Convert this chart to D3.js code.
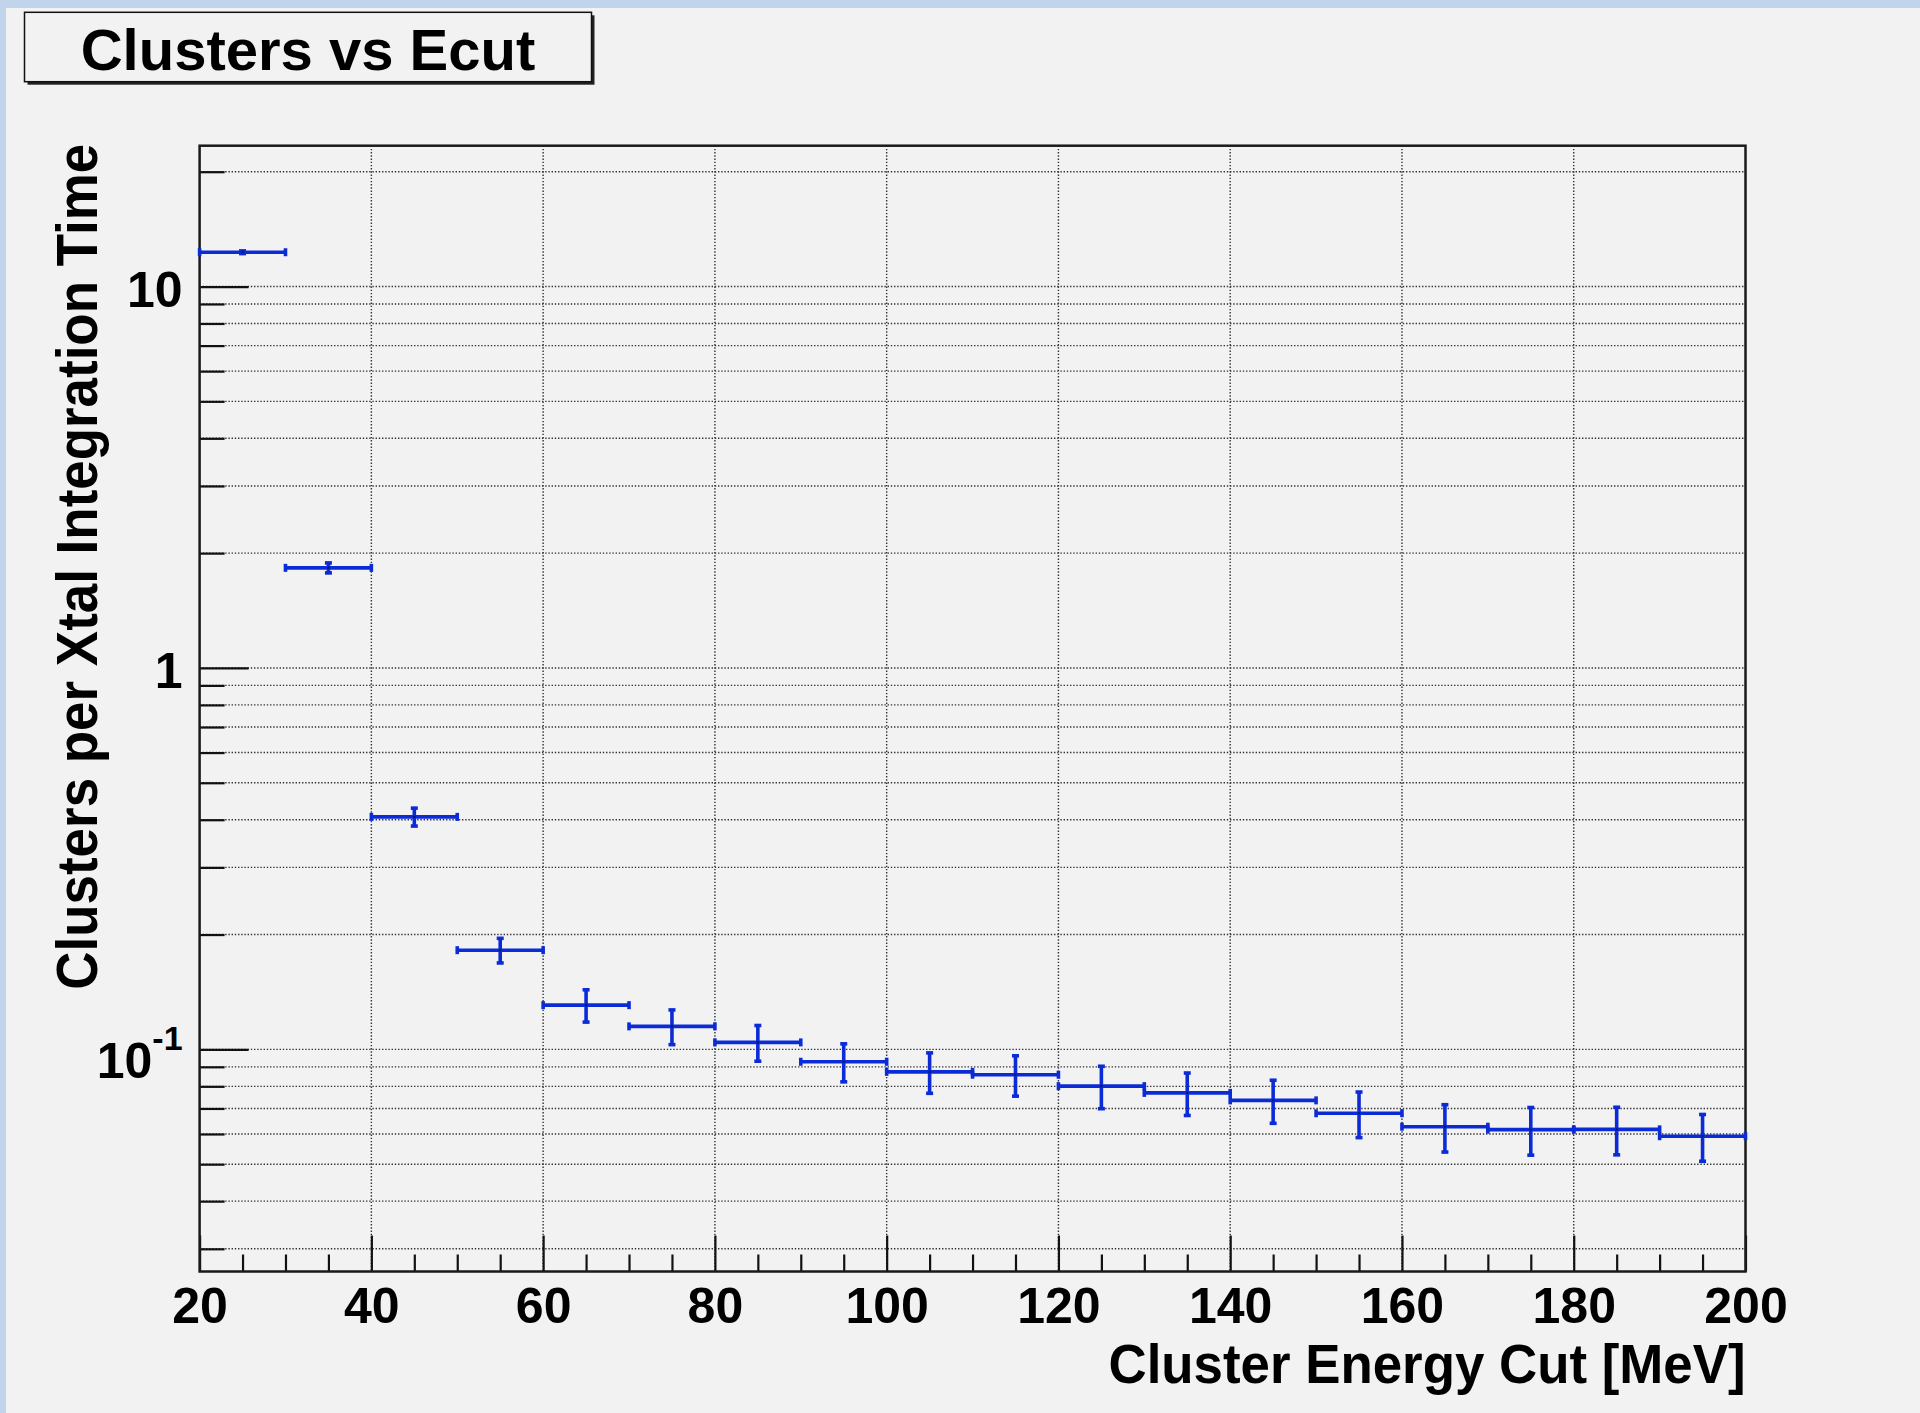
<!DOCTYPE html>
<html>
<head>
<meta charset="utf-8">
<script src="https://cdn.jsdelivr.net/npm/d3@7"></script>
<style>
  body { margin: 0; background: #f2f2f2; overflow: hidden; }
  svg { display: block; }
  text { font-family: "Liberation Sans", Arial, Helvetica, sans-serif; font-weight: bold; fill: #000; }
</style>
</head>
<body>
<div id="container"></div>
<script>
// Histogram bins: centre of each 10 MeV energy-cut bin
const binCenters = [25, 35, 45, 55, 65, 75, 85, 95, 105, 115, 125, 135, 145, 155, 165, 175, 185, 195];
const binHalfWidth = 5;

// Clusters per Xtal integration time, and their errors
const clusterRates = [12.3, 1.83, 0.407, 0.182, 0.1306, 0.1149, 0.1043, 0.0928, 0.0873, 0.0858,
  0.0801, 0.0769, 0.0735, 0.068, 0.0627, 0.0616, 0.0617, 0.0592];
const clusterErrors = [0.1, 0.055, 0.022, 0.0135, 0.0127, 0.012, 0.0112, 0.0106, 0.0106, 0.0104,
  0.0102, 0.0098, 0.0095, 0.0093, 0.0089, 0.0088, 0.0088, 0.0083];

// Axis ticks
const xMajorTicks = [20, 40, 60, 80, 100, 120, 140, 160, 180, 200];
const xMinorTicks = [25, 30, 35, 45, 50, 55, 65, 70, 75, 85, 90, 95, 105, 110, 115, 125, 130, 135,
  145, 150, 155, 165, 170, 175, 185, 190, 195];
const yTicks = [0.03, 0.04, 0.05, 0.06, 0.07, 0.08, 0.09,
  0.1, 0.2, 0.3, 0.4, 0.5, 0.6, 0.7, 0.8, 0.9,
  1, 2, 3, 4, 5, 6, 7, 8, 9, 10, 20];
const yLabelled = [0.1, 1, 10];

const titleText = "Clusters vs Ecut";
const xTitle = "Cluster Energy Cut [MeV]";
const yTitle = "Clusters per Xtal Integration Time";

// canvas + frame
const width = 1920;
const height = 1413;
const frameLeft = 199.6;
const frameRight = 1745.5;
const frameTop = 145.7;
const frameBottom = 1271.5;

const blue = "#0b2bd6";
const gridColor = "#333";

const svg = d3.create("svg").attr("width", width).attr("height", height);

// page background and the bit of blue desktop that leaks in at the edges
svg.append("rect").attr("width", width).attr("height", height).attr("fill", "#f2f2f2");
svg.append("rect").attr("x", 0).attr("y", 0).attr("width", width).attr("height", 8).attr("fill", "#c2d4ec");
svg.append("rect").attr("x", 0).attr("y", 0).attr("width", 6).attr("height", height).attr("fill", "#c2d4ec");

const x = d3.scaleLinear().domain([20, 200]).range([frameLeft, frameRight]);
const y = d3.scaleLog().domain([0.02616, 23.4]).range([frameBottom, frameTop]);

// grid
const grid = svg.append("g")
  .attr("stroke", gridColor)
  .attr("stroke-width", 1.4)
  .attr("stroke-dasharray", "1.4,1.8");

grid.selectAll("line.h")
  .data(yTicks)
  .join("line")
  .attr("class", "h")
  .attr("x1", frameLeft)
  .attr("x2", frameRight)
  .attr("y1", d => y(d))
  .attr("y2", d => y(d));

grid.selectAll("line.v")
  .data(xMajorTicks.slice(1, -1))
  .join("line")
  .attr("class", "v")
  .attr("x1", d => x(d))
  .attr("x2", d => x(d))
  .attr("y1", frameTop)
  .attr("y2", frameBottom);

// y axis (ticks point into the frame)
const yAxis = svg.append("g")
  .attr("transform", `translate(${frameLeft},0)`)
  .call(d3.axisLeft(y).tickValues(yTicks).tickSize(-25).tickPadding(17).tickFormat(""));
yAxis.select(".domain").remove();
yAxis.selectAll(".tick line")
  .attr("stroke", "#111")
  .attr("stroke-width", 2.2)
  .attr("x2", d => (yLabelled.includes(d) ? 49 : 25));

yAxis.selectAll(".tick")
  .filter(d => yLabelled.includes(d))
  .select("text")
  .attr("font-size", 50)
  .attr("fill", "#000")
  .each(function (d) {
    const t = d3.select(this);
    if (d === 0.1) {
      t.attr("dy", 28);
      t.append("tspan").text("10");
      t.append("tspan").attr("font-size", 34).attr("dy", -28).text("-1");
    } else {
      t.attr("dy", 20).text(d3.format("d")(d));
    }
  });

// x axis (ticks point up into the frame)
const xAxis = svg.append("g")
  .attr("transform", `translate(0,${frameBottom})`)
  .call(d3.axisBottom(x).tickValues(xMajorTicks.concat(xMinorTicks)).tickSize(-17).tickPadding(16)
    .tickFormat(d => (xMajorTicks.includes(d) ? d : "")));
xAxis.select(".domain").remove();
xAxis.selectAll(".tick line")
  .attr("stroke", "#111")
  .attr("stroke-width", 2.2)
  .attr("y2", d => (xMajorTicks.includes(d) ? -36 : -17));
xAxis.selectAll(".tick text")
  .attr("font-size", 50)
  .attr("fill", "#000");

// frame
svg.append("rect")
  .attr("x", frameLeft)
  .attr("y", frameTop)
  .attr("width", frameRight - frameLeft)
  .attr("height", frameBottom - frameTop)
  .attr("fill", "none")
  .attr("stroke", "#1a1a1a")
  .attr("stroke-width", 2.5);

// data: error crosses
const points = binCenters.map((c, i) => ({ c, v: clusterRates[i], e: clusterErrors[i] }));
const marks = svg.append("g")
  .attr("stroke", blue)
  .attr("stroke-width", 3.6)
  .attr("fill", "none");

const pt = marks.selectAll("g")
  .data(points)
  .join("g");

pt.append("line")
  .attr("x1", d => x(d.c - binHalfWidth))
  .attr("x2", d => x(d.c + binHalfWidth))
  .attr("y1", d => y(d.v))
  .attr("y2", d => y(d.v));

pt.append("line")
  .attr("x1", d => x(d.c))
  .attr("x2", d => x(d.c))
  .attr("y1", d => y(d.v - d.e))
  .attr("y2", d => y(d.v + d.e));

// end caps of the horizontal bars
pt.selectAll("line.hcap")
  .data(d => [d.c - binHalfWidth, d.c + binHalfWidth].map(e => ({ xe: e, v: d.v })))
  .join("line")
  .attr("class", "hcap")
  .attr("x1", d => x(d.xe))
  .attr("x2", d => x(d.xe))
  .attr("y1", d => y(d.v) - 4)
  .attr("y2", d => y(d.v) + 4);

// end caps of the vertical bars
pt.selectAll("line.vcap")
  .data(d => [d.v - d.e, d.v + d.e].map(ye => ({ ye, c: d.c })))
  .join("line")
  .attr("class", "vcap")
  .attr("x1", d => x(d.c) - 3.5)
  .attr("x2", d => x(d.c) + 3.5)
  .attr("y1", d => y(d.ye))
  .attr("y2", d => y(d.ye));

// small dot marker
svg.append("g")
  .selectAll("rect")
  .data(points)
  .join("rect")
  .attr("x", d => x(d.c) - 1)
  .attr("y", d => y(d.v) - 1)
  .attr("width", 2)
  .attr("height", 2)
  .attr("fill", "#001060");

// axis titles
svg.append("text")
  .attr("x", frameRight)
  .attr("y", 1383)
  .attr("text-anchor", "end")
  .attr("font-size", 56)
  .attr("textLength", 637)
  .attr("lengthAdjust", "spacingAndGlyphs")
  .text(xTitle);

svg.append("text")
  .attr("transform", `translate(97,${frameTop - 2}) rotate(-90)`)
  .attr("text-anchor", "end")
  .attr("font-size", 58)
  .attr("textLength", 846)
  .attr("lengthAdjust", "spacingAndGlyphs")
  .text(yTitle);

// title box with shadow
svg.append("rect")
  .attr("x", 27.5).attr("y", 15.3)
  .attr("width", 567).attr("height", 69.4)
  .attr("fill", "#222");
svg.append("rect")
  .attr("x", 24.5).attr("y", 12.3)
  .attr("width", 567).attr("height", 69.4)
  .attr("fill", "#f2f2f2")
  .attr("stroke", "#111")
  .attr("stroke-width", 1.5);
svg.append("text")
  .attr("x", 308)
  .attr("y", 70)
  .attr("text-anchor", "middle")
  .attr("font-size", 58)
  .text(titleText);

document.getElementById("container").append(svg.node());
</script>
</body>
</html>
